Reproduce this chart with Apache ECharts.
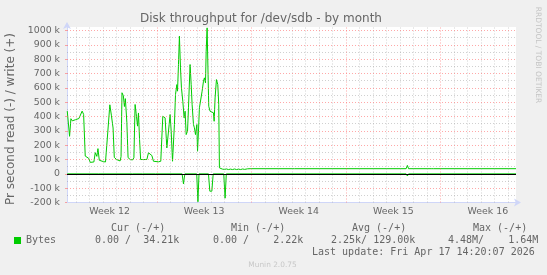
<!DOCTYPE html>
<html><head><meta charset="utf-8">
<script src="https://cdn.jsdelivr.net/npm/echarts@6/dist/echarts.min.js"></script>
<style>html,body{margin:0;padding:0;background:#f0f0f0}#c{width:547px;height:275px}</style>
</head><body><div id="c"></div>
<script>
// ---- text ----
const chartTitle = 'Disk throughput for /dev/sdb - by month';
const yAxisTitle = 'Pr second read (-) / write (+)';
const watermark = 'RRDTOOL / TOBI OETIKER';
const footer = 'Munin 2.0.75';
// ---- x axis (days from Monday of Week 13) ----
const xRange = [-6.65, 26.58];
const weekLabels = ['Week 12', 'Week 13', 'Week 14', 'Week 15', 'Week 16'];
const weekCenters = [-3.5, 3.5, 10.5, 17.5, 24.5];
const weekStarts = [0, 7, 14, 21];
// ---- y axis (k bytes / s) ----
const yRange = [-200, 1025];
const yTicks = [-200, -100, 0, 100, 200, 300, 400, 500, 600, 700, 800, 900, 1000];
// ---- write (+) series ----
const writeTime = [-6.63,-6.56,-6.46,-6.36,-6.26,-6.14,-6.02,-5.90,-5.77,-5.65,-5.53,-5.42,-5.30,-5.17,-5.04,-4.93,-4.79,-4.66,-4.56,-4.44,-4.36,-4.26,-4.12,-3.95,-3.80,-3.70,-3.58,-3.48,-3.36,-3.24,-3.15,-2.98,-2.84,-2.72,-2.65,-2.58,-2.48,-2.40,-2.33,-2.22,-2.13,-1.97,-1.80,-1.70,-1.61,-1.53,-1.43,-1.36,-1.28,-1.20,-1.11,-0.99,-0.87,-0.74,-0.62,-0.50,-0.37,-0.25,-0.13,0.12,0.29,0.37,0.44,0.54,0.61,0.74,0.81,0.91,0.98,1.06,1.16,1.23,1.30,1.38,1.48,1.53,1.60,1.67,1.75,1.82,1.92,2.02,2.09,2.17,2.27,2.34,2.46,2.54,2.61,2.71,2.78,2.86,2.96,3.01,3.08,3.15,3.25,3.35,3.45,3.52,3.60,3.65,3.72,3.79,3.84,3.94,4.07,4.19,4.24,4.31,4.41,4.51,4.58,4.63,4.71,4.85,5.00,5.15,5.30,5.45,5.60,5.75,5.90,6.05,6.20,6.35,6.50,6.70,6.90,10.00,10.10,10.20,18.45,18.54,18.63,20.30,20.38,20.46,26.58];
const writeKB = [438,430,262,385,370,372,378,382,386,392,438,415,124,117,108,80,78,83,148,122,176,95,90,85,83,85,355,482,405,320,115,100,112,90,120,566,545,470,525,360,113,100,97,112,484,420,333,425,240,100,93,100,88,100,147,140,128,88,88,84,88,77,402,402,391,181,181,344,414,298,88,88,344,554,623,577,763,961,740,600,507,391,437,274,298,461,763,623,484,344,321,274,344,158,298,461,472,577,647,670,635,856,1019,693,472,437,433,426,367,530,658,623,484,42,30,33,31,34,30,33,30,34,30,33,30,34,31,35,36,36,31,36,36,59,36,36,45,36,36];
// ---- read (-) series ----
const readTime = [-6.63,-4.30,-4.24,-4.18,-1.80,-1.74,-1.68,-1.05,-0.99,-0.93,-0.11,-0.05,0.01,1.87,1.97,2.07,2.95,3.04,3.12,3.82,3.92,4.07,4.17,4.95,5.05,5.14,18.45,18.54,18.63,26.58];
const readKB = [0,0,-7,0,0,-6,0,0,-6,0,0,-6,0,0,-70,0,0,-195,0,0,-121,-121,0,0,-170,0,0,-15,0,0];
// ---- legend ----
const seriesName = 'Bytes';
const legendHeaders = ['Cur (-/+)', 'Min (-/+)', 'Avg (-/+)', 'Max (-/+)'];
const legendValues = ['0.00 /  34.21k', '0.00 /    2.22k', '2.25k/ 129.00k', '4.48M/    1.64M'];
const lastUpdate = 'Last update: Fri Apr 17 14:20:07 2026';

// ---- styles ----
const GREEN = '#00cc00';
const FONT = '#666666';
const AXIS = '#CFD6F8';
const MGRID = 'rgba(255,96,96,0.55)';
const GRID = 'rgba(150,150,150,0.45)';
const DOT = [1, 2];

const gridLines = [];
for (let d = Math.ceil(xRange[0]); d <= Math.floor(xRange[1]); d++) {
  if (weekStarts.indexOf(d) < 0) gridLines.push({ xAxis: d, lineStyle: { color: GRID, type: DOT, width: 1 } });
}
for (let v = yRange[0] + 50; v <= 1000; v += 50) {
  if (v % 100 !== 0) gridLines.push({ yAxis: v, lineStyle: { color: GRID, type: DOT, width: 1 } });
}
yTicks.forEach(v => { if (v > yRange[0]) gridLines.push({ yAxis: v, lineStyle: { color: MGRID, type: DOT, width: 1 } }); });
weekStarts.forEach(d => gridLines.push({ xAxis: d, lineStyle: { color: MGRID, type: DOT, width: 1 } }));

const monoText = (text, x, y) => ({ type: 'text', x, y, silent: true,
  style: { text, fill: FONT, fontFamily: '"DejaVu Sans Mono", monospace', fontSize: 10, align: 'left', verticalAlign: 'middle' } });

const graphics = [
  { type: 'text', x: 261, y: 19, silent: true, style: { text: chartTitle, fill: FONT, fontFamily: '"DejaVu Sans"', fontSize: 12, align: 'center', verticalAlign: 'middle' } },
  { type: 'text', x: 10.5, y: 119, rotation: Math.PI / 2, silent: true, style: { text: yAxisTitle, fill: FONT, fontFamily: '"DejaVu Sans"', fontSize: 12, align: 'center', verticalAlign: 'middle' } },
  { type: 'text', x: 537.5, y: 55, rotation: -Math.PI / 2, silent: true, style: { text: watermark, fill: '#c4c4c4', fontFamily: '"DejaVu Sans"', fontSize: 7.5, align: 'center', verticalAlign: 'middle' } },
  { type: 'text', x: 272.5, y: 265.5, silent: true, style: { text: footer, fill: '#c8c8c8', fontFamily: '"DejaVu Sans"', fontSize: 7.4, align: 'center', verticalAlign: 'middle' } },
  { type: 'rect', shape: { x: 14, y: 237, width: 7, height: 7 }, style: { fill: GREEN }, silent: true },
  monoText(seriesName, 26, 240.5),
  monoText(lastUpdate, 312, 252.5)
];
const headerX = [111, 231, 352, 473];
const valueX = [95, 213, 331, 448];
legendHeaders.forEach((h, i) => graphics.push(monoText(h, headerX[i], 228)));
legendValues.forEach((v, i) => graphics.push(monoText(v, valueX[i], 240.5)));

const chart = echarts.init(document.getElementById('c'), null, { renderer: 'canvas' });
chart.setOption({
  animation: false,
  backgroundColor: '#f0f0f0',
  grid: { left: 67, right: 31, top: 27, bottom: 72.5, show: true, backgroundColor: '#ffffff', borderWidth: 0 },
  xAxis: {
    type: 'value', min: xRange[0], max: xRange[1],
    splitLine: { show: false },
    axisLine: { show: true, onZero: false, lineStyle: { color: AXIS, width: 1 }, symbol: ['none', 'arrow'], symbolSize: [6, 7], symbolOffset: [0, 5] },
    axisTick: { show: false },
    axisLabel: { customValues: weekCenters, showMinLabel: true, showMaxLabel: true,
      formatter: v => { const i = weekCenters.indexOf(v); return i >= 0 ? weekLabels[i] : ''; },
      color: FONT, fontFamily: '"DejaVu Sans"', fontSize: 9.4, margin: 5 }
  },
  yAxis: {
    type: 'value', min: yRange[0], max: yRange[1], interval: 100,
    splitLine: { show: false },
    axisLine: { show: true, onZero: false, lineStyle: { color: AXIS, width: 1 }, symbol: ['none', 'arrow'], symbolSize: [6, 7], symbolOffset: [0, 5] },
    axisTick: { show: true, length: 2, customValues: yTicks, lineStyle: { color: MGRID } },
    axisLabel: { customValues: yTicks,
      formatter: v => (v % 100 === 0 && v <= 1000) ? (v === 0 ? '0' : v + ' k') : '',
      color: FONT, fontFamily: '"DejaVu Sans"', fontSize: 9.4, margin: 7 }
  },
  graphic: graphics,
  series: [
    { type: 'line', name: 'grid', data: [], z: 1, silent: true,
      markLine: { silent: true, symbol: ['none', 'none'], label: { show: false }, animation: false, data: gridLines } },
    { type: 'line', name: 'read', z: 3, showSymbol: false, silent: true,
      data: readTime.map((t, i) => [t, readKB[i]]), lineStyle: { color: GREEN, width: 1 }, itemStyle: { color: GREEN } },
    { type: 'line', name: 'write', z: 3, showSymbol: false, silent: true,
      data: writeTime.map((t, i) => [t, writeKB[i]]), lineStyle: { color: GREEN, width: 1 }, itemStyle: { color: GREEN } },
    { type: 'line', name: 'zero', data: [], z: 5, silent: true,
      markLine: { silent: true, symbol: ['none', 'none'], label: { show: false }, animation: false,
        data: [{ yAxis: 0, lineStyle: { color: '#000000', type: 'solid', width: 1 } }] } }
  ]
});
</script>
</body></html>
